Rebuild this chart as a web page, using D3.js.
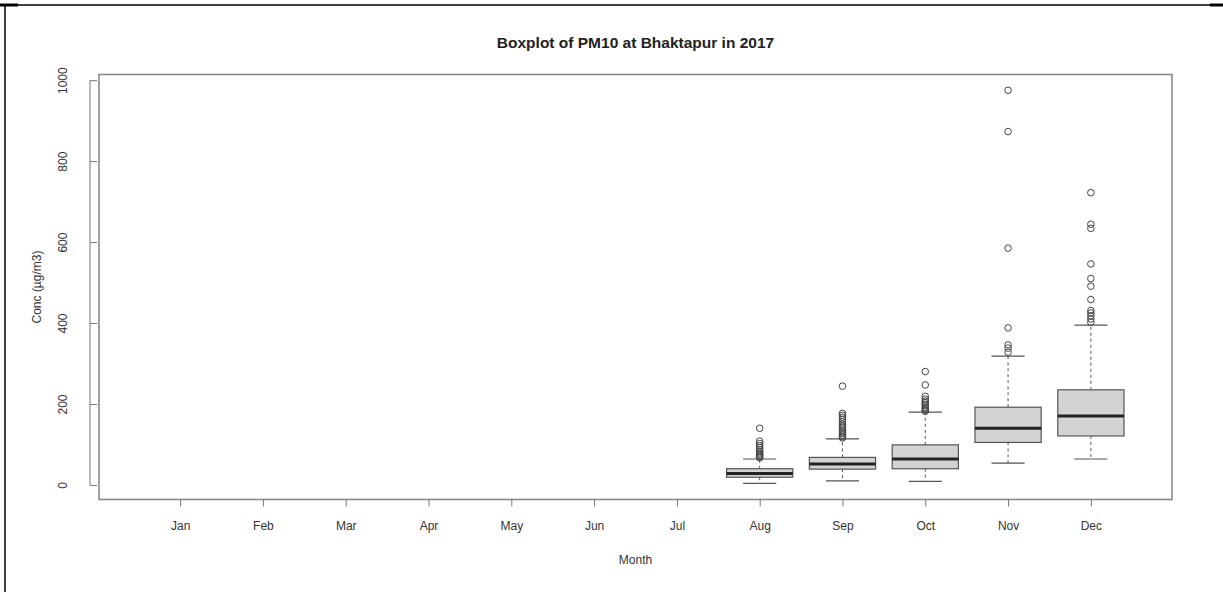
<!DOCTYPE html>
<html>
<head>
<meta charset="utf-8">
<script src="https://cdn.jsdelivr.net/npm/d3@7"></script>
<style>
  html, body { margin: 0; padding: 0; background: #fff; }
  svg { display: block; }
  text { font-family: "Liberation Sans", Arial, sans-serif; }
</style>
</head>
<body>
<svg id="chart" width="1223" height="592"></svg>
<script>
// ---- data ----
const months = ["Jan","Feb","Mar","Apr","May","Jun","Jul","Aug","Sep","Oct","Nov","Dec"];
const whiskerLow  = [null,null,null,null,null,null,null,   4,  10,   9,  54,  64];
const q1          = [null,null,null,null,null,null,null,  19,  39,  40, 105, 121];
const median      = [null,null,null,null,null,null,null,  28,  52,  64, 140, 170];
const q3          = [null,null,null,null,null,null,null,  40,  68,  99, 192, 235];
const whiskerHigh = [null,null,null,null,null,null,null,  64, 114, 180, 318, 395];
const outAug = [140, 108, 102, 97, 92, 87, 83, 79, 76, 73, 70, 67];
const outSep = [244, 177, 172, 167, 162, 156, 150, 145, 140, 135, 131, 127, 123, 119, 116];
const outOct = [280, 247, 219, 212, 207, 203, 199, 195, 191, 188, 185, 182];
const outNov = [975, 873, 585, 388, 346, 338, 328];
const outDec = [722, 644, 634, 546, 510, 491, 458, 431, 425, 418, 410, 402];
const outliers = [[],[],[],[],[],[],[], outAug, outSep, outOct, outNov, outDec];
const yTicks = [0, 200, 400, 600, 800, 1000];
const titleText = "Boxplot of PM10 at Bhaktapur in 2017";
const xLabel = "Month";
const yLabel = "Conc (\u00B5g/m3)";

// ---- layout ----
const svg = d3.select("#chart");
const plot = { left: 99, right: 1172, top: 74.5, bottom: 499.5 };

const x = d3.scaleLinear().domain([0.02, 12.98]).range([plot.left, plot.right]);
const y = d3.scaleLinear().domain([-36, 1014]).range([plot.bottom, plot.top]);
const unit = x(2) - x(1);
const boxW = 0.8 * unit;
const stapleW = boxW / 2;

// outer page frame (partial black border)
svg.append("line").attr("x1", 0).attr("x2", 1223).attr("y1", 5).attr("y2", 5)
  .attr("stroke", "#000").attr("stroke-width", 1.5);
svg.append("line").attr("x1", 5).attr("x2", 5).attr("y1", 5).attr("y2", 592)
  .attr("stroke", "#000").attr("stroke-width", 1.5);
svg.append("line").attr("x1", 0).attr("x2", 18).attr("y1", 5).attr("y2", 5)
  .attr("stroke", "#000").attr("stroke-width", 3);
svg.append("line").attr("x1", 1210).attr("x2", 1223).attr("y1", 5).attr("y2", 5)
  .attr("stroke", "#000").attr("stroke-width", 3);

// title
svg.append("text").attr("x", (plot.left + plot.right) / 2).attr("y", 48)
  .attr("text-anchor", "middle").attr("font-size", 15.5).attr("font-weight", "bold")
  .attr("fill", "#222").text(titleText);

// boxes
const idx = d3.range(months.length).filter(i => median[i] != null);
const g = svg.append("g");
const lineCol = "#555";

idx.forEach(i => {
  const cx = x(i + 1);
  g.append("line").attr("x1", cx).attr("x2", cx).attr("y1", y(q3[i])).attr("y2", y(whiskerHigh[i]))
    .attr("stroke", lineCol).attr("stroke-width", 1).attr("stroke-dasharray", "3,3");
  g.append("line").attr("x1", cx).attr("x2", cx).attr("y1", y(q1[i])).attr("y2", y(whiskerLow[i]))
    .attr("stroke", lineCol).attr("stroke-width", 1).attr("stroke-dasharray", "3,3");
  [whiskerHigh[i], whiskerLow[i]].forEach(v => {
    g.append("line").attr("x1", cx - stapleW / 2).attr("x2", cx + stapleW / 2)
      .attr("y1", y(v)).attr("y2", y(v)).attr("stroke", lineCol).attr("stroke-width", 1.2);
  });
  g.append("rect").attr("x", cx - boxW / 2).attr("width", boxW)
    .attr("y", y(q3[i])).attr("height", y(q1[i]) - y(q3[i]))
    .attr("fill", "#d3d3d3").attr("stroke", lineCol).attr("stroke-width", 1.2);
  g.append("line").attr("x1", cx - boxW / 2).attr("x2", cx + boxW / 2)
    .attr("y1", y(median[i])).attr("y2", y(median[i]))
    .attr("stroke", "#222").attr("stroke-width", 3);
  g.selectAll(null).data(outliers[i]).enter().append("circle")
    .attr("cx", cx).attr("cy", d => y(d)).attr("r", 3.3)
    .attr("fill", "none").attr("stroke", "#444").attr("stroke-width", 1);
});

// plot frame
svg.append("rect").attr("x", plot.left).attr("y", plot.top)
  .attr("width", plot.right - plot.left).attr("height", plot.bottom - plot.top)
  .attr("fill", "none").attr("stroke", "#8a8a8a").attr("stroke-width", 1.6);

// y axis
const yAxis = svg.append("g").attr("transform", `translate(${plot.left - 9},0)`)
  .call(d3.axisLeft(y).tickValues(yTicks).tickSize(7).tickSizeOuter(0).tickFormat(d3.format("d")));
yAxis.select(".domain").attr("stroke", "#777").attr("d", `M0,${y(0)}V${y(1000)}`);
yAxis.selectAll(".tick line").attr("stroke", "#777").attr("x1", 0).attr("x2", 7);
yAxis.selectAll(".tick text")
  .attr("font-size", 12).attr("fill", "#333")
  .attr("x", 0).attr("dy", 0)
  .attr("text-anchor", "middle")
  .attr("transform", "translate(-23,0) rotate(-90)");

// x axis
const xAxis = svg.append("g").attr("transform", `translate(0,${plot.bottom})`)
  .call(d3.axisBottom(x).tickValues(d3.range(1, 13)).tickSize(7).tickSizeOuter(0)
    .tickFormat(d => months[d - 1]));
xAxis.select(".domain").remove();
xAxis.selectAll(".tick line").attr("stroke", "#777");
xAxis.selectAll(".tick text").attr("font-size", 12).attr("fill", "#333").attr("y", 22);

// axis titles
svg.append("text").attr("x", (plot.left + plot.right) / 2).attr("y", 564)
  .attr("text-anchor", "middle").attr("font-size", 12).attr("fill", "#333").text(xLabel);
svg.append("text").attr("transform", `translate(41,${(plot.top + plot.bottom) / 2}) rotate(-90)`)
  .attr("text-anchor", "middle").attr("font-size", 12).attr("fill", "#333").text(yLabel);
</script>
</body>
</html>
